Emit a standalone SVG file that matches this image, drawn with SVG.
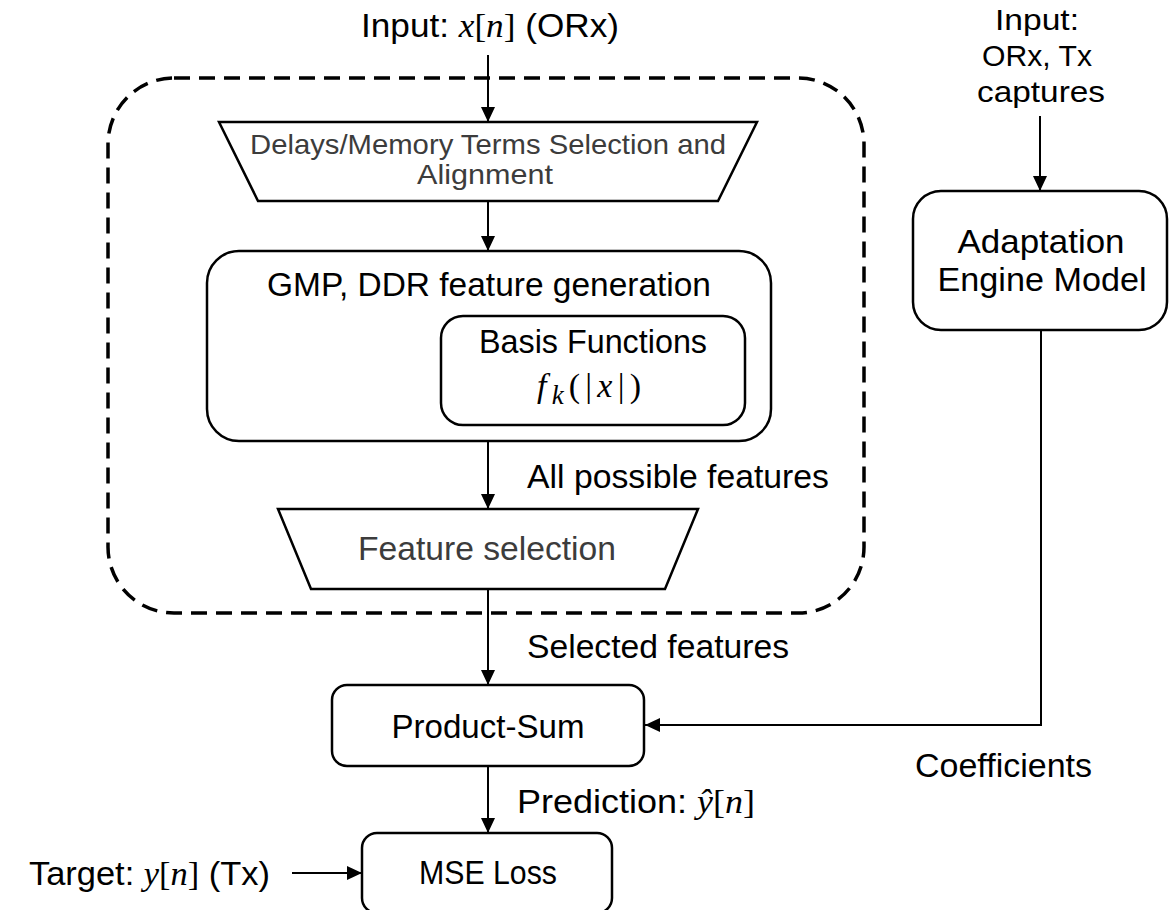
<svg xmlns="http://www.w3.org/2000/svg" width="1173" height="910" viewBox="0 0 1173 910">
<defs>
<style>
.t{font-family:"Liberation Sans",Arial,sans-serif;font-size:34px;fill:#000}
.ti{font-family:"Liberation Sans",Arial,sans-serif;font-size:30px;fill:#000}
.tr{font-family:"Liberation Sans",Arial,sans-serif;font-size:28px;fill:#3c3c3c}
.g{fill:#3c3c3c}
.m{font-family:"Liberation Serif","DejaVu Serif",serif;font-style:italic}
.s{font-family:"Liberation Serif","DejaVu Serif",serif}
.box{fill:#fff;stroke:#000;stroke-width:2.5}
.dash{fill:none;stroke:#000;stroke-width:3.5;stroke-dasharray:16 9}
.ln{fill:none;stroke:#000;stroke-width:2}
</style>
<marker id="ah" markerWidth="16" markerHeight="14" refX="15" refY="7" orient="auto" markerUnits="userSpaceOnUse">
<path d="M0,0 L15,7 L0,14 z" fill="#000"/>
</marker>
</defs>
<rect width="1173" height="910" fill="#fff"/>

<g id="group-boundary">
<rect class="dash" x="108" y="78" width="756" height="535" rx="66" ry="66"/>
</g>

<g id="connectors">
<line class="ln" x1="488" y1="55" x2="488" y2="122" marker-end="url(#ah)"/>
<line class="ln" x1="488" y1="201" x2="488" y2="251" marker-end="url(#ah)"/>
<line class="ln" x1="488" y1="441" x2="488" y2="509" marker-end="url(#ah)"/>
<line class="ln" x1="488" y1="589" x2="488" y2="685" marker-end="url(#ah)"/>
<line class="ln" x1="488" y1="766" x2="488" y2="833" marker-end="url(#ah)"/>
<line class="ln" x1="292" y1="873" x2="362" y2="873" marker-end="url(#ah)"/>
<line class="ln" x1="1040" y1="116" x2="1040" y2="191" marker-end="url(#ah)"/>
<polyline class="ln" points="1041,330 1041,725 645,725" marker-end="url(#ah)"/>
</g>

<g id="label-input">
<text class="t" x="490" y="37" text-anchor="middle" textLength="258" lengthAdjust="spacingAndGlyphs">Input: <tspan class="m">x</tspan><tspan class="s">[</tspan><tspan class="m">n</tspan><tspan class="s">]</tspan> (ORx)</text>
</g>

<g id="node-delays">
<polygon class="box" points="219,122 757,122 718,201 258,201"/>
<text class="tr" x="488" y="154" text-anchor="middle" textLength="476" lengthAdjust="spacingAndGlyphs">Delays/Memory Terms Selection and</text>
<text class="tr" x="485" y="184" text-anchor="middle" textLength="136" lengthAdjust="spacingAndGlyphs">Alignment</text>
</g>

<g id="node-gmp">
<rect class="box" x="207" y="251" width="564" height="190" rx="32" ry="32"/>
<text class="t" x="489" y="296" text-anchor="middle" textLength="444" lengthAdjust="spacingAndGlyphs">GMP, DDR feature generation</text>
</g>

<g id="node-basis">
<rect class="box" x="441" y="316" width="304" height="109" rx="22" ry="22"/>
<text class="t" x="593" y="353" text-anchor="middle" textLength="228" lengthAdjust="spacingAndGlyphs">Basis Functions</text>
<text class="t" x="589" y="397" text-anchor="middle" font-size="40" textLength="104" lengthAdjust="spacing"><tspan class="m">f</tspan><tspan class="m" font-size="27" dy="7">k</tspan><tspan class="s" dy="-7">(|</tspan><tspan class="m">x</tspan><tspan class="s">|)</tspan></text>
</g>

<g id="label-all">
<text class="t" x="527" y="488" textLength="302" lengthAdjust="spacingAndGlyphs">All possible features</text>
</g>

<g id="node-featsel">
<polygon class="box" points="278,509 698,509 665,589 311,589"/>
<text class="t g" x="487" y="560" text-anchor="middle" textLength="258" lengthAdjust="spacingAndGlyphs">Feature selection</text>
</g>

<g id="label-selected">
<text class="t" x="527" y="658" textLength="262" lengthAdjust="spacingAndGlyphs">Selected features</text>
</g>

<g id="node-product">
<rect class="box" x="332" y="685" width="312" height="81" rx="15" ry="15"/>
<text class="t" x="488" y="738" text-anchor="middle" textLength="193" lengthAdjust="spacingAndGlyphs">Product-Sum</text>
</g>

<g id="label-prediction">
<text class="t" x="517" y="813" textLength="238" lengthAdjust="spacingAndGlyphs">Prediction: <tspan class="m">ŷ</tspan><tspan class="s">[</tspan><tspan class="m">n</tspan><tspan class="s">]</tspan></text>
</g>

<g id="node-mse">
<rect class="box" x="362" y="833" width="250" height="80" rx="15" ry="15"/>
<text class="t" x="488" y="884" text-anchor="middle" textLength="138" lengthAdjust="spacingAndGlyphs">MSE Loss</text>
</g>

<g id="label-target">
<text class="t" x="29" y="885" textLength="241" lengthAdjust="spacingAndGlyphs">Target: <tspan class="m">y</tspan><tspan class="s">[</tspan><tspan class="m">n</tspan><tspan class="s">]</tspan> (Tx)</text>
</g>

<g id="label-input2">
<text class="ti" x="1037" y="30" text-anchor="middle" textLength="84" lengthAdjust="spacingAndGlyphs">Input:</text>
<text class="ti" x="1037" y="66" text-anchor="middle" textLength="110" lengthAdjust="spacingAndGlyphs">ORx, Tx</text>
<text class="ti" x="1041" y="102" text-anchor="middle" textLength="128" lengthAdjust="spacingAndGlyphs">captures</text>
</g>

<g id="node-adapt">
<rect class="box" x="913" y="191" width="254" height="139" rx="28" ry="28"/>
<text class="t" x="1041" y="253" text-anchor="middle" textLength="167" lengthAdjust="spacingAndGlyphs">Adaptation</text>
<text class="t" x="1042" y="291" text-anchor="middle" textLength="209" lengthAdjust="spacingAndGlyphs">Engine Model</text>
</g>

<g id="label-coeff">
<text class="t" x="915" y="777" textLength="177" lengthAdjust="spacingAndGlyphs">Coefficients</text>
</g>
</svg>
